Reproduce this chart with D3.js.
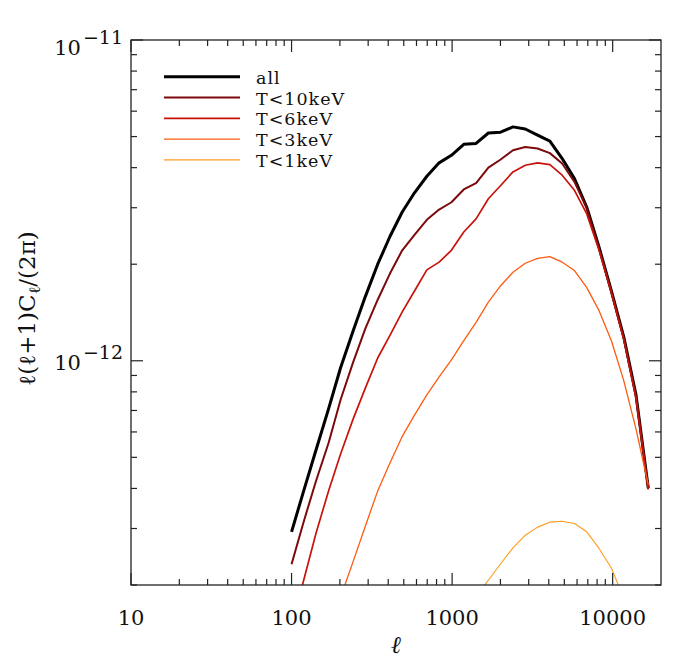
<!DOCTYPE html>
<html>
<head>
<meta charset="utf-8">
<script src="https://cdn.jsdelivr.net/npm/d3@7"></script>
<style>
  body { margin: 0; background: #fff; }
  text { font-family: "DejaVu Serif", serif; fill: #111; }
</style>
</head>
<body>
<svg width="700" height="668"></svg>
<script>
// multipoles (l) where the spectra are sampled
const ell = [100, 119, 142, 170, 202, 242, 288, 344, 410, 489, 583, 696, 830, 990, 1182,
  1410, 1682, 2006, 2393, 2855, 3406, 4063, 4847, 5782, 6898, 8229, 9817, 11711, 13971, 16667];

// l(l+1)C_l/(2pi), in units of 1e-12
const UNIT = 1e-12;
const allVals = [0.293, 0.393, 0.527, 0.708, 0.951, 1.24, 1.585, 2.00, 2.44, 2.91, 3.34, 3.76, 4.14, 4.37, 4.73,
  4.76, 5.13, 5.16, 5.36, 5.28, 5.05, 4.84, 4.27, 3.70, 3.01, 2.26, 1.65, 1.19, 0.783, 0.401];
const t10Vals = [0.232, 0.315, 0.422, 0.554, 0.756, 0.99, 1.26, 1.55, 1.87, 2.21, 2.47, 2.75, 2.96, 3.12, 3.42,
  3.58, 4.00, 4.24, 4.53, 4.64, 4.59, 4.44, 4.12, 3.61, 2.99, 2.24, 1.64, 1.18, 0.777, 0.398];
const t6Vals = [0.148, 0.207, 0.29, 0.393, 0.512, 0.659, 0.822, 1.02, 1.20, 1.42, 1.65, 1.92, 2.03, 2.21, 2.52,
  2.77, 3.20, 3.52, 3.88, 4.07, 4.14, 4.09, 3.79, 3.40, 2.87, 2.21, 1.63, 1.17, 0.765, 0.397];
const t3Vals = [0.0655, 0.0848, 0.110, 0.141, 0.183, 0.237, 0.305, 0.393, 0.48, 0.581, 0.677, 0.783, 0.891, 1.007, 1.155,
  1.317, 1.523, 1.714, 1.888, 2.014, 2.087, 2.113, 2.029, 1.911, 1.69, 1.433, 1.155, 0.869, 0.613, 0.41];
const t1Vals = [null, null, null, null, null, null, null, null, null, null, null, null, null, 0.143, 0.163,
  0.185, 0.207, 0.233, 0.261, 0.286, 0.303, 0.314, 0.316, 0.311, 0.293, 0.260, 0.226, 0.182, 0.133, null];

const seriesNames = ["all", "T<10keV", "T<6keV", "T<3keV", "T<1keV"];
const seriesColors = ["#000000", "#7c0a0a", "#c8120a", "#ff5a10", "#ff9a20"];
const seriesWidths = [3, 2, 1.7, 1.3, 1.1];
const seriesVals = [allVals, t10Vals, t6Vals, t3Vals, t1Vals];

const xTickValues = [10, 100, 1000, 10000];
const xTickLabels = ["10", "100", "1000", "10000"];
const yTickValues = [1e-12, 1e-11];
const yTickExps = ["\u221212", "\u221211"];

const svg = d3.select("svg");
const pLeft = 131, pRight = 661, pTop = 40, pBottom = 585;

const x = d3.scaleLog().domain([10, 20000]).range([pLeft, pRight]);
const y = d3.scaleLog().domain([2e-13, 1e-11]).range([pBottom, pTop]);

// clip so the curves stop at the frame
svg.append("clipPath").attr("id", "plotclip")
  .append("rect").attr("x", pLeft).attr("y", pTop)
  .attr("width", pRight - pLeft).attr("height", pBottom - pTop);

const line = d3.line()
  .defined(d => d[1] != null)
  .x(d => x(d[0]))
  .y(d => y(d[1] * UNIT));

const curves = svg.append("g").attr("clip-path", "url(#plotclip)");
seriesVals.forEach(function(vals, i) {
  curves.append("path")
    .datum(ell.map((l, k) => [l, vals[k]]))
    .attr("d", line)
    .attr("fill", "none")
    .attr("stroke", seriesColors[i])
    .attr("stroke-width", seriesWidths[i])
    .attr("stroke-linejoin", "round");
});

// frame
const axisColor = "#222";
svg.append("rect")
  .attr("x", pLeft).attr("y", pTop)
  .attr("width", pRight - pLeft).attr("height", pBottom - pTop)
  .attr("fill", "none").attr("stroke", axisColor).attr("stroke-width", 1.3);

// x ticks, bottom and top
const xMinor = x.ticks().filter(t => !xTickValues.includes(t) && t > 10 && t < 20000);
const ticks = svg.append("g").attr("stroke", axisColor).attr("stroke-width", 1.2);
xMinor.forEach(function(t) {
  ticks.append("line").attr("x1", x(t)).attr("x2", x(t)).attr("y1", pBottom).attr("y2", pBottom - 6);
  ticks.append("line").attr("x1", x(t)).attr("x2", x(t)).attr("y1", pTop).attr("y2", pTop + 6);
});
xTickValues.forEach(function(t) {
  ticks.append("line").attr("x1", x(t)).attr("x2", x(t)).attr("y1", pBottom).attr("y2", pBottom - 12);
  ticks.append("line").attr("x1", x(t)).attr("x2", x(t)).attr("y1", pTop).attr("y2", pTop + 12);
});

// y ticks, left and right
const yMinor = y.ticks().filter(t => !yTickValues.some(v => Math.abs(v - t) < 1e-20));
yMinor.forEach(function(t) {
  ticks.append("line").attr("x1", pLeft).attr("x2", pLeft + 6).attr("y1", y(t)).attr("y2", y(t));
  ticks.append("line").attr("x1", pRight).attr("x2", pRight - 6).attr("y1", y(t)).attr("y2", y(t));
});
yTickValues.forEach(function(t) {
  ticks.append("line").attr("x1", pLeft).attr("x2", pLeft + 12).attr("y1", y(t)).attr("y2", y(t));
  ticks.append("line").attr("x1", pRight).attr("x2", pRight - 12).attr("y1", y(t)).attr("y2", y(t));
});

// tick labels
svg.append("g").selectAll("text")
  .data(xTickValues)
  .enter().append("text")
  .attr("x", d => x(d))
  .attr("y", 625)
  .attr("text-anchor", "middle")
  .style("font-size", "21px")
  .text((d, i) => xTickLabels[i]);

yTickValues.forEach(function(t, i) {
  const ty = Math.max(y(t) + 9, pTop + 15);
  const lab = svg.append("text")
    .attr("x", 123).attr("y", ty)
    .attr("text-anchor", "end")
    .style("font-size", "21px");
  lab.append("tspan").text("10");
  lab.append("tspan").attr("dx", 2).attr("dy", -11).style("font-size", "19px").text(yTickExps[i]);
});

// axis titles
svg.append("text")
  .attr("x", (pLeft + pRight) / 2).attr("y", 653)
  .attr("text-anchor", "middle")
  .style("font-size", "24px").style("font-style", "italic")
  .text("\u2113");

const yTitle = svg.append("text")
  .attr("transform", "translate(35," + ((pTop + pBottom) / 2 - 4) + ") rotate(-90)")
  .attr("text-anchor", "middle")
  .style("font-size", "23px");
yTitle.append("tspan").text("\u2113(\u2113+1)C");
yTitle.append("tspan").attr("dy", 5).style("font-size", "16px").text("\u2113");
yTitle.append("tspan").attr("dy", -5).text("/(2\u03c0)");

// legend
const legend = svg.append("g");
seriesNames.forEach(function(name, i) {
  const ly = 76.7 + i * 20.8;
  legend.append("line")
    .attr("x1", 164).attr("x2", 240).attr("y1", ly).attr("y2", ly)
    .attr("stroke", seriesColors[i]).attr("stroke-width", seriesWidths[i]);
  legend.append("text")
    .attr("x", 256).attr("y", ly + 7)
    .style("font-size", "17.5px")
    .style("letter-spacing", "1px")
    .text(name);
});
</script>
</body>
</html>
